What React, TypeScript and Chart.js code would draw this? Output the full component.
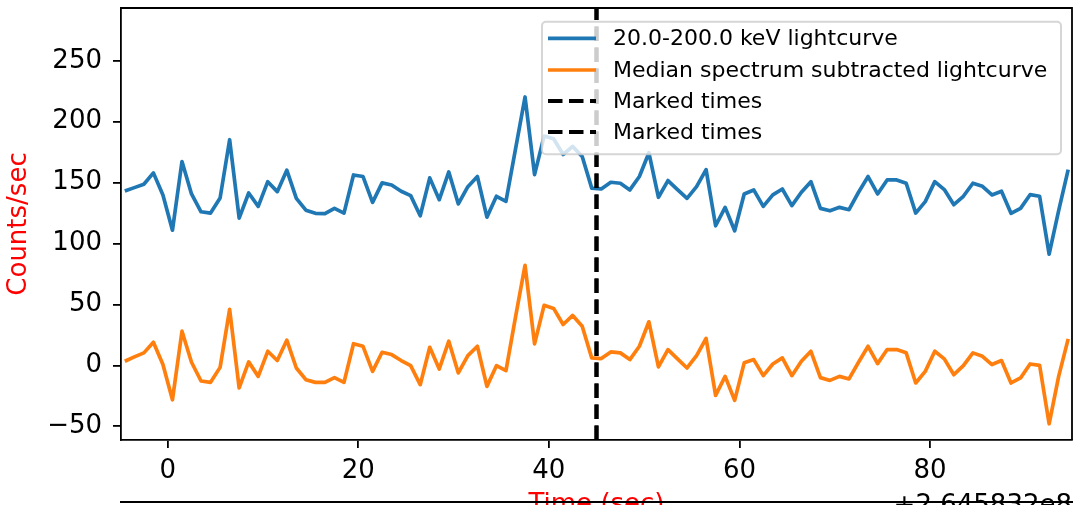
import React, { useEffect, useRef } from "react";
import { Chart, registerables } from "chart.js";

Chart.register(...registerables);

// ---- data ----
const timeOffsets = [
  -4.5, -3.5, -2.5, -1.5, -0.5, 0.5, 1.5, 2.5, 3.5, 4.5,
  5.5, 6.5, 7.5, 8.5, 9.5, 10.5, 11.5, 12.5, 13.5, 14.5,
  15.5, 16.5, 17.5, 18.5, 19.5, 20.5, 21.5, 22.5, 23.5, 24.5,
  25.5, 26.5, 27.5, 28.5, 29.5, 30.5, 31.5, 32.5, 33.5, 34.5,
  35.5, 36.5, 37.5, 38.5, 39.5, 40.5, 41.5, 42.5, 43.5, 44.5,
  45.5, 46.5, 47.5, 48.5, 49.5, 50.5, 51.5, 52.5, 53.5, 54.5,
  55.5, 56.5, 57.5, 58.5, 59.5, 60.5, 61.5, 62.5, 63.5, 64.5,
  65.5, 66.5, 67.5, 68.5, 69.5, 70.5, 71.5, 72.5, 73.5, 74.5,
  75.5, 76.5, 77.5, 78.5, 79.5, 80.5, 81.5, 82.5, 83.5, 84.5,
  85.5, 86.5, 87.5, 88.5, 89.5, 90.5, 91.5, 92.5, 93.5, 94.5,
];

const totalRate = [
  143.1, 145.9, 148.7, 158.0, 139.9, 111.0, 167.3, 140.7, 126.1, 125.0,
  137.4, 185.2, 120.9, 141.5, 130.5, 150.8, 142.6, 160.2, 137.1, 127.4,
  124.8, 124.5, 128.9, 125.0, 156.3, 155.0, 133.8, 149.8, 148.1, 142.9,
  139.3, 122.8, 153.9, 136.0, 158.8, 132.5, 146.7, 155.0, 121.7, 138.8,
  134.7, 177.5, 220.3, 156.6, 188.2, 186.0, 173.1, 179.7, 171.4, 145.5,
  144.8, 150.3, 149.5, 144.0, 155.0, 174.5, 138.0, 151.7, 144.3, 137.1,
  146.7, 160.7, 114.6, 129.7, 110.5, 140.7, 144.0, 130.5, 139.9, 144.8,
  131.1, 142.1, 150.8, 128.9, 126.9, 129.7, 127.8, 142.1, 155.0, 140.7,
  152.2, 152.2, 149.5, 125.0, 134.4, 150.8, 144.3, 131.9, 138.8, 149.5,
  147.0, 139.9, 142.9, 124.8, 128.9, 140.1, 138.8, 91.3, 127.0, 160.7,
];

const subtractedRate = [
  3.4, 7.0, 10.3, 19.0, 0.7, -28.2, 28.1, 2.6, -12.8, -13.9,
  -1.6, 46.0, -18.5, 2.9, -9.0, 11.6, 4.0, 20.7, -2.1, -11.7,
  -13.9, -13.9, -10.0, -13.9, 17.8, 15.7, -4.9, 10.8, 8.9, 4.0,
  -0.2, -15.8, 14.9, -2.9, 19.9, -6.2, 8.1, 15.7, -17.2, -0.2,
  -4.3, 39.6, 82.2, 17.7, 49.3, 46.8, 33.6, 41.0, 32.2, 6.2,
  5.6, 11.1, 10.3, 4.8, 15.7, 35.8, -1.2, 13.0, 5.4, -2.1,
  8.1, 22.1, -24.6, -9.0, -28.7, 2.1, 4.8, -8.4, 1.2, 6.2,
  -8.4, 3.4, 11.6, -10.0, -12.3, -9.0, -11.1, 2.6, 15.7, 1.5,
  13.0, 13.0, 10.3, -14.4, -4.9, 11.6, 5.4, -7.6, -0.2, 10.3,
  7.5, 0.7, 4.0, -14.4, -10.3, 1.2, 0.1, -47.9, -9.0, 21.8,
];

const markedTimes = [45.0, 45.0];

const xTicks = [0, 20, 40, 60, 80];
const yTicks = [-50, 0, 50, 100, 150, 200, 250];

const seriesLabels = [
  "20.0-200.0 keV lightcurve",
  "Median spectrum subtracted lightcurve",
];
const markedLabel = "Marked times";
const xTitle = "Time (sec)";
const yTitle = "Counts/sec";
const offsetText = "+2.645832e8";

// ---- style ----
const X_MIN = -4.9;
const X_MAX = 94.9;
const Y_MIN = -61.2;
const Y_MAX = 293.3;
const FONT = "'DejaVu Sans', 'Liberation Sans', sans-serif";
const BLUE = "#1f77b4";
const ORANGE = "#ff7f0e";
const DASH = [14.5, 6.5];
const LW = 3.7;

const decorPlugin = {
  id: "decor",
  afterDatasetsDraw(chart: any) {
    const ctx = chart.ctx;
    const a = chart.chartArea;
    ctx.save();
    // top and right spines
    ctx.strokeStyle = "#000";
    ctx.lineWidth = 1.8;
    ctx.beginPath();
    ctx.moveTo(a.left, a.top);
    ctx.lineTo(a.right, a.top);
    ctx.lineTo(a.right, a.bottom);
    ctx.stroke();

    // legend
    const bx = 542, by = 21.7, bw = 1061 - 542, bh = 154.3 - 21.7, r = 4;
    ctx.beginPath();
    ctx.moveTo(bx + r, by);
    ctx.lineTo(bx + bw - r, by);
    ctx.arcTo(bx + bw, by, bx + bw, by + r, r);
    ctx.lineTo(bx + bw, by + bh - r);
    ctx.arcTo(bx + bw, by + bh, bx + bw - r, by + bh, r);
    ctx.lineTo(bx + r, by + bh);
    ctx.arcTo(bx, by + bh, bx, by + bh - r, r);
    ctx.lineTo(bx, by + r);
    ctx.arcTo(bx, by, bx + r, by, r);
    ctx.closePath();
    ctx.fillStyle = "rgba(255,255,255,0.8)";
    ctx.fill();
    ctx.strokeStyle = "rgba(204,204,204,0.8)";
    ctx.lineWidth = 2;
    ctx.stroke();

    const items = [
      { text: seriesLabels[0], color: BLUE, dash: [] as number[], w: LW },
      { text: seriesLabels[1], color: ORANGE, dash: [] as number[], w: LW },
      { text: markedLabel, color: "#000", dash: DASH, w: 4 },
      { text: markedLabel, color: "#000", dash: DASH, w: 4 },
    ];
    const rows = [38.3, 70, 101, 132];
    ctx.font = `22px ${FONT}`;
    ctx.textBaseline = "middle";
    ctx.textAlign = "left";
    items.forEach((it, i) => {
      const y = rows[i];
      ctx.beginPath();
      ctx.setLineDash(it.dash);
      ctx.strokeStyle = it.color;
      ctx.lineWidth = it.w;
      ctx.lineCap = "butt";
      ctx.moveTo(548, y);
      ctx.lineTo(596, y);
      ctx.stroke();
      ctx.setLineDash([]);
      ctx.fillStyle = "#000";
      ctx.fillText(it.text, 613, y + 1);
    });
    ctx.restore();
  },
  afterDraw(chart: any) {
    const ctx = chart.ctx;
    const a = chart.chartArea;
    ctx.save();
    ctx.font = `26px ${FONT}`;
    ctx.fillStyle = "#000";
    ctx.textAlign = "right";
    ctx.textBaseline = "alphabetic";
    ctx.fillText(offsetText, a.right, 513);
    ctx.strokeStyle = "#000";
    ctx.lineWidth = 2;
    ctx.beginPath();
    ctx.moveTo(a.left - 1, 502);
    ctx.lineTo(1073, 502);
    ctx.stroke();
    ctx.restore();
  },
};

export default function App() {
  const ref = useRef<HTMLCanvasElement | null>(null);

  useEffect(() => {
    if (!ref.current) return;
    const lineData = (vals: number[]) =>
      timeOffsets.map((t, i) => ({ x: t, y: vals[i] }));
    const markedData = (t: number) => [
      { x: t, y: Y_MIN },
      { x: t, y: Y_MAX },
    ];

    const chart = new Chart(ref.current, {
      type: "line",
      data: {
        datasets: [
          {
            label: seriesLabels[0],
            data: lineData(totalRate),
            borderColor: BLUE,
            borderWidth: LW,
            pointRadius: 0,
            tension: 0,
            fill: false,
            borderJoinStyle: "round",
            order: 4,
          },
          {
            label: seriesLabels[1],
            data: lineData(subtractedRate),
            borderColor: ORANGE,
            borderWidth: LW,
            pointRadius: 0,
            tension: 0,
            fill: false,
            borderJoinStyle: "round",
            order: 3,
          },
          ...markedTimes.map((t, i) => ({
            label: markedLabel,
            data: markedData(t),
            borderColor: "#000",
            borderWidth: 4,
            borderDash: DASH,
            pointRadius: 0,
            fill: false,
            order: 2 - i,
          })),
        ],
      },
      options: {
        responsive: false,
        animation: false,
        devicePixelRatio: 1,
        layout: { padding: { top: 8, right: 1, left: 1, bottom: 0 } },
        plugins: {
          legend: { display: false },
          tooltip: { enabled: false },
        },
        scales: {
          x: {
            type: "linear",
            min: X_MIN,
            max: X_MAX,
            afterBuildTicks: (s: any) => {
              s.ticks = xTicks.map((v) => ({ value: v }));
            },
            afterFit: (s: any) => {
              s.height = 65;
              s.paddingLeft = 0;
              s.paddingRight = 0;
            },
            grid: {
              drawOnChartArea: false,
              drawTicks: true,
              tickLength: 8,
              lineWidth: 1.8,
              color: "#000",
              tickColor: "#000",
            },
            border: { display: true, color: "#000", width: 1.8 },
            ticks: {
              font: { family: FONT, size: 26 },
              color: "#000",
              padding: 8,
              maxRotation: 0,
              autoSkip: false,
              callback: (v: any) => String(v),
            },
            title: {
              display: true,
              text: xTitle,
              color: "red",
              font: { family: FONT, size: 26 },
              padding: { top: 0, bottom: -16 },
            },
          },
          y: {
            type: "linear",
            min: Y_MIN,
            max: Y_MAX,
            afterBuildTicks: (s: any) => {
              s.ticks = yTicks.map((v) => ({ value: v }));
            },
            afterFit: (s: any) => {
              s.width = 120;
              s.paddingTop = 0;
              s.paddingBottom = 0;
            },
            grid: {
              drawOnChartArea: false,
              drawTicks: true,
              tickLength: 8,
              lineWidth: 1.8,
              color: "#000",
              tickColor: "#000",
            },
            border: { display: true, color: "#000", width: 1.8 },
            ticks: {
              font: { family: FONT, size: 26 },
              color: "#000",
              padding: 11,
              autoSkip: false,
              callback: (v: any) =>
                Number(v) < 0 ? "\u2212" + Math.abs(Number(v)) : String(v),
            },
            title: {
              display: true,
              text: yTitle,
              color: "red",
              font: { family: FONT, size: 26 },
              padding: { top: 3, bottom: 0 },
            },
          },
        },
      },
      plugins: [decorPlugin],
    } as any);

    return () => chart.destroy();
  }, []);

  return (
    <div
      style={{
        position: "absolute",
        left: 0,
        top: 0,
        width: 1073,
        height: 505,
        overflow: "hidden",
        background: "#fff",
      }}
    >
      <canvas ref={ref} width={1073} height={505} />
    </div>
  );
}
